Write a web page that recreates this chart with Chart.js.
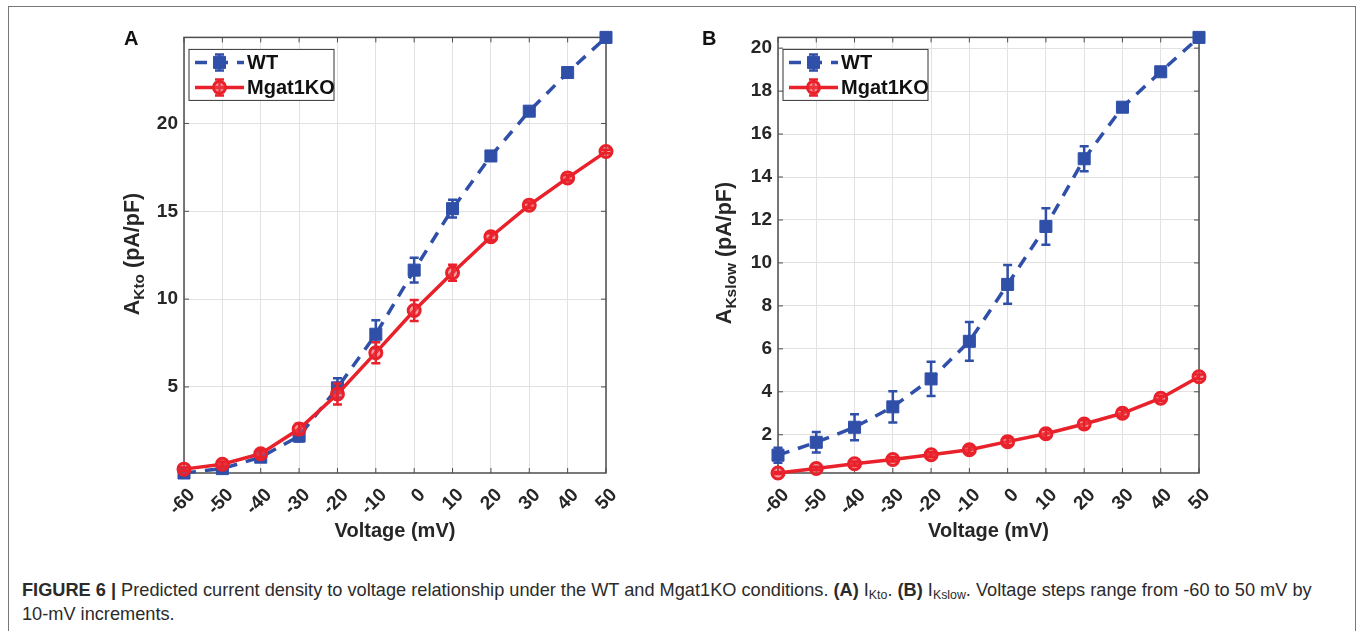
<!DOCTYPE html>
<html>
<head>
<meta charset="utf-8">
<script src="https://cdn.jsdelivr.net/npm/chart.js@4.4.0/dist/chart.umd.min.js"></script>
<style>
  body { margin: 0; width: 1358px; height: 631px; overflow: hidden; position: relative; background: #fff;
         font-family: "Liberation Sans", Arial, Helvetica, sans-serif; }
  #frame { position: absolute; left: 8px; top: 6px; width: 1348px; height: 700px;
           border: 1.5px solid #777; box-sizing: border-box; }
  canvas { position: absolute; }
  .panel { position: absolute; font-weight: bold; font-size: 20px; color: #111; }
  .ylab { position: absolute; white-space: nowrap; font-weight: bold; font-size: 21.5px; line-height: 21px;
          color: #262626; transform: translate(-50%, -50%) rotate(-90deg); }
  .ylab span { font-size: 0.72em; position: relative; top: 0.3em; }
  #caption { position: absolute; left: 22px; top: 578px; font-size: 18.2px; line-height: 24px; color: #2b2b2b;
             white-space: nowrap; }
  #caption sub { font-size: 0.68em; vertical-align: -0.25em; line-height: 0; }
</style>
</head>
<body>
<div id="frame"></div>
<canvas id="chartA" width="560" height="530" style="left:100px; top:20px;"></canvas>
<canvas id="chartB" width="560" height="530" style="left:690px; top:20px;"></canvas>
<div class="panel" style="left:124px; top:27px;">A</div>
<div class="panel" style="left:702px; top:27px;">B</div>
<div class="ylab" style="left:133px; top:254px;">A<span>Kto</span> (pA/pF)</div>
<div class="ylab" style="left:725px; top:253px;">A<span>Kslow</span> (pA/pF)</div>
<div id="caption"><b>FIGURE 6 |</b> Predicted current density to voltage relationship under the WT and Mgat1KO conditions. <b>(A)</b> I<sub>Kto</sub>. <b>(B)</b> I<sub>Kslow</sub>. Voltage steps range from -60 to 50 mV by<br>10-mV increments.</div>

<script>
// voltage steps (mV)
const voltages = [-60, -50, -40, -30, -20, -10, 0, 10, 20, 30, 40, 50];
const xTickLabels = [-60, -50, -40, -30, -20, -10, 0, 10, 20, 30, 40, 50];
const yTicksA = [5, 10, 15, 20];
const yTicksB = [2, 4, 6, 8, 10, 12, 14, 16, 18, 20];
const seriesNames = ["WT", "Mgat1KO"];

// A: IKto
const wtKto = [0.1, 0.35, 1.0, 2.2, 4.95, 8.0, 11.65, 15.15, 18.15, 20.7, 22.9, 24.9];
const wtKtoErr = [0.05, 0.15, 0.2, 0.3, 0.55, 0.8, 0.7, 0.5, 0.2, 0.15, 0.15, 0.1];
const koKto = [0.32, 0.6, 1.2, 2.6, 4.6, 6.95, 9.35, 11.5, 13.55, 15.35, 16.9, 18.4];
const koKtoErr = [0.1, 0.15, 0.2, 0.3, 0.6, 0.6, 0.6, 0.45, 0.2, 0.15, 0.15, 0.1];

// B: IKslow
const wtKslow = [1.05, 1.65, 2.35, 3.3, 4.6, 6.35, 9.0, 11.7, 14.85, 17.25, 18.9, 20.5];
const wtKslowErr = [0.35, 0.48, 0.6, 0.73, 0.8, 0.9, 0.9, 0.85, 0.58, 0.15, 0.1, 0.05];
const koKslow = [0.22, 0.43, 0.65, 0.85, 1.07, 1.3, 1.68, 2.05, 2.5, 3.0, 3.7, 4.7];
const koKslowErr = [0.05, 0.08, 0.1, 0.1, 0.12, 0.15, 0.17, 0.18, 0.18, 0.15, 0.12, 0.1];

const BLUE = "#2f4fa8";
const RED = "#e8212b";
const TEXT = "#262626";

// axes box + inward ticks like matlab
const axesBox = {
  id: "axesBox",
  beforeDatasetsDraw(chart) {
    const { ctx, chartArea: a, scales } = chart;
    ctx.save();
    ctx.strokeStyle = "#4d4d4d";
    ctx.lineWidth = 1;
    ctx.beginPath();
    scales.x.ticks.forEach(t => {
      const px = scales.x.getPixelForValue(t.value);
      ctx.moveTo(px, a.bottom); ctx.lineTo(px, a.bottom - 5);
      ctx.moveTo(px, a.top); ctx.lineTo(px, a.top + 5);
    });
    scales.y.ticks.forEach(t => {
      const py = scales.y.getPixelForValue(t.value);
      ctx.moveTo(a.left, py); ctx.lineTo(a.left + 5, py);
      ctx.moveTo(a.right, py); ctx.lineTo(a.right - 5, py);
    });
    ctx.stroke();
    ctx.lineWidth = 1.5;
    ctx.strokeRect(a.left, a.top, a.right - a.left, a.bottom - a.top);
    ctx.restore();
  }
};

const errorBars = {
  id: "errorBars",
  afterDatasetDraw(chart, args) {
    const ds = chart.data.datasets[args.index];
    if (!ds.errors) return;
    const y = chart.scales.y;
    const ctx = chart.ctx;
    ctx.save();
    ctx.strokeStyle = ds.borderColor;
    ctx.lineWidth = 2.5;
    ctx.setLineDash([]);
    ctx.beginPath();
    args.meta.data.forEach((pt, i) => {
      const v = ds.data[i].y;
      const e = ds.errors[i];
      const top = y.getPixelForValue(v + e), bot = y.getPixelForValue(v - e);
      ctx.moveTo(pt.x, top); ctx.lineTo(pt.x, bot);
      ctx.moveTo(pt.x - 4.5, top); ctx.lineTo(pt.x + 4.5, top);
      ctx.moveTo(pt.x - 4.5, bot); ctx.lineTo(pt.x + 4.5, bot);
    });
    ctx.stroke();
    ctx.restore();
  }
};

// boxed legend inside the upper left corner of the axes
const boxLegend = {
  id: "boxLegend",
  afterDraw(chart) {
    const { ctx, chartArea: a } = chart;
    const bx = a.left + 5, by = a.top + 12, bw = 145, bh = 51;
    ctx.save();
    ctx.fillStyle = "#fff";
    ctx.fillRect(bx, by, bw, bh);
    ctx.strokeStyle = "#333";
    ctx.lineWidth = 1;
    ctx.strokeRect(bx, by, bw, bh);
    chart.data.datasets.forEach((ds, i) => {
      const cy = by + 13 + i * 25;
      const x0 = bx + 6, x1 = bx + 55, mx = (x0 + x1) / 2;
      ctx.strokeStyle = ds.borderColor;
      ctx.lineWidth = ds.borderWidth;
      ctx.setLineDash(ds.borderDash || []);
      ctx.beginPath();
      ctx.moveTo(x0, cy); ctx.lineTo(x1, cy);
      ctx.stroke();
      ctx.setLineDash([]);
      ctx.lineWidth = 2.5;
      ctx.beginPath();
      ctx.moveTo(mx, cy - 8); ctx.lineTo(mx, cy + 8);
      ctx.moveTo(mx - 4.5, cy - 8); ctx.lineTo(mx + 4.5, cy - 8);
      ctx.moveTo(mx - 4.5, cy + 8); ctx.lineTo(mx + 4.5, cy + 8);
      ctx.stroke();
      ctx.fillStyle = ds.pointBackgroundColor;
      ctx.strokeStyle = ds.pointBorderColor;
      ctx.lineWidth = ds.pointBorderWidth;
      Chart.helpers.drawPoint(ctx, {
        pointStyle: ds.pointStyle, radius: ds.pointRadius, borderWidth: ds.pointBorderWidth, rotation: 0
      }, mx, cy);
      ctx.fillStyle = "#111";
      ctx.font = "bold 20px 'Liberation Sans', Arial, sans-serif";
      ctx.textBaseline = "middle";
      ctx.fillText(ds.label, x1 + 3, cy + 1);
    });
    ctx.restore();
  }
};

function makeChart(id, wt, wtErr, ko, koErr, yTicks, yAxisWidth, padRight) {
  const all = wt.concat(ko);
  return new Chart(document.getElementById(id), {
    type: "line",
    data: {
      datasets: [
        {
          label: seriesNames[0],
          data: voltages.map((v, i) => ({ x: v, y: wt[i] })),
          errors: wtErr,
          borderColor: BLUE,
          borderWidth: 3.5,
          borderDash: [12, 9],
          pointStyle: "rect",
          pointRadius: 8.5,
          pointBackgroundColor: BLUE,
          pointBorderColor: BLUE,
          pointBorderWidth: 1,
          clip: false,
          order: 2
        },
        {
          label: seriesNames[1],
          data: voltages.map((v, i) => ({ x: v, y: ko[i] })),
          errors: koErr,
          borderColor: RED,
          borderWidth: 3.5,
          pointStyle: "circle",
          pointRadius: 6,
          pointBackgroundColor: "rgba(238,70,80,0.55)",
          pointBorderColor: RED,
          pointBorderWidth: 3,
          clip: false,
          order: 1
        }
      ]
    },
    options: {
      responsive: false,
      animation: false,
      events: [],
      layout: { padding: { top: 13, right: padRight, left: 0, bottom: 0 } },
      plugins: { legend: { display: false }, tooltip: { enabled: false } },
      scales: {
        x: {
          type: "linear",
          min: voltages[0],
          max: voltages[voltages.length - 1],
          afterBuildTicks: s => { s.ticks = xTickLabels.map(v => ({ value: v })); },
          afterFit: s => { s.height = 77; },
          grid: { color: "#e2e2e2", drawTicks: false },
          border: { display: false },
          ticks: {
            autoSkip: false, minRotation: 45, maxRotation: 45, padding: 11, labelOffset: 8,
            color: TEXT, font: { family: "'Liberation Sans', Arial", size: 19, weight: "bold" }
          },
          title: {
            display: true, text: "Voltage (mV)", color: TEXT, padding: { top: 0, bottom: 7 },
            font: { family: "'Liberation Sans', Arial", size: 20, weight: "bold" }
          }
        },
        y: {
          min: Math.min(...all),
          max: Math.max(...all),
          afterBuildTicks: s => { s.ticks = yTicks.map(v => ({ value: v })); },
          afterFit: s => { s.width = yAxisWidth; },
          grid: { color: "#e2e2e2", drawTicks: false },
          border: { display: false },
          ticks: {
            padding: 6, color: TEXT,
            font: { family: "'Liberation Sans', Arial", size: 19, weight: "bold" }
          }
        }
      }
    },
    plugins: [axesBox, errorBars, boxLegend]
  });
}

makeChart("chartA", wtKto, wtKtoErr, koKto, koKtoErr, yTicksA, 84, 54);
makeChart("chartB", wtKslow, wtKslowErr, koKslow, koKslowErr, yTicksB, 88, 51);
</script>
</body>
</html>
